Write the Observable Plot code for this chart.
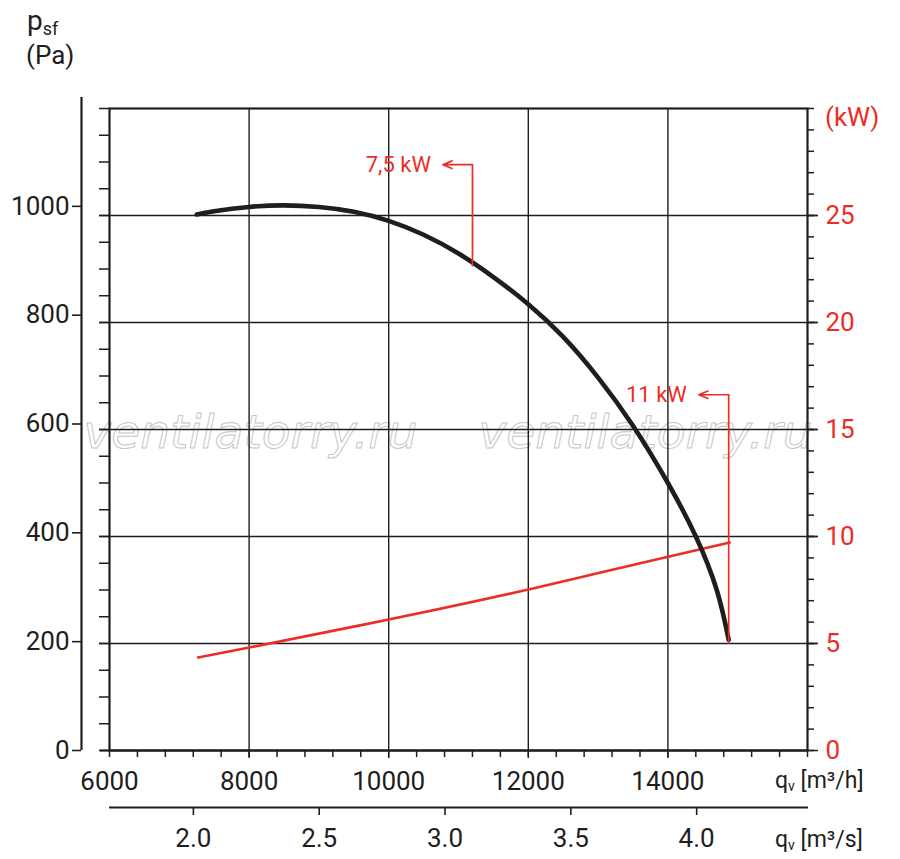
<!DOCTYPE html>
<html><head><meta charset="utf-8">
<script src="https://cdn.jsdelivr.net/npm/d3@7"></script>
<script src="https://cdn.jsdelivr.net/npm/@observablehq/plot@0.6"></script>
<style>
body{margin:0;background:#fff;}
#wrap{position:relative;width:900px;height:859px;font-family:Roboto, sans-serif;}
#wrap svg{position:absolute;left:0;top:0;overflow:visible}
</style></head><body>
<div id="wrap"></div>
<script>
// ---- data ----
const flowM3h    = [7250, 7500, 8000, 8500, 9000, 9500, 10000, 10500, 11000, 11500, 12000, 12500, 13000, 13500, 14000, 14400, 14700, 14871];
const pressurePa = [1002, 1008, 1016, 1019, 1016, 1007, 990, 964, 929, 885, 834, 773, 697, 607, 500, 400, 300, 207];
const powerFlowM3h = [7271, 8000, 10000, 12000, 13586, 14886];
const powerKW      = [4.35, 4.81, 6.12, 7.52, 8.74, 9.72];
const xTicksM3h = [6000, 8000, 10000, 12000, 14000];
const xTicksM3s = [2.0, 2.5, 3.0, 3.5, 4.0];
const yTicksPa  = [0, 200, 400, 600, 800, 1000];
const yTicksKW  = [0, 5, 10, 15, 20, 25];
const calloutLabels = ["7,5 kW", "11 kW"];
const calloutFlow   = [11200, 14871];
const calloutFrom   = [905, 200];
const calloutElbow  = [1095, 665];
const calloutTip    = [10777, 14443];
const watermark = "ventilatorry.ru";
const PA_PER_KW = 40; // 25 kW on the right axis = 1000 Pa on the left axis

// ---- styles ----
const RED = "#ec2d27", INK = "#1e1e1e";
const W = 900, H = 859;
const font = "Roboto, sans-serif";

const curve = flowM3h.map((q, i) => ({q, p: pressurePa[i]}));
const power = powerFlowM3h.map((q, i) => ({q, kw: powerKW[i]}));
const callouts = calloutLabels.map((label, i) => ({label, q: calloutFlow[i], p: calloutFrom[i], elbow: calloutElbow[i], tip: calloutTip[i]}));

const main = Plot.plot({
  width: W, height: H,
  marginLeft: 109, marginRight: 93, marginTop: 108, marginBottom: 109,
  x: {domain: [6000, 16000], axis: null},
  y: {domain: [0, 1200], axis: null},
  style: {fontFamily: font, background: "transparent", color: INK},
  marks: [
    Plot.text([watermark], {frameAnchor: "middle", dx: -208, dy: 3, fontSize: 47, fontStyle: "italic", fontFamily: "DejaVu Sans", fill: "none", stroke: "#c6c6c6", strokeWidth: 1}),
    Plot.text([watermark], {frameAnchor: "middle", dx: 187, dy: 3, fontSize: 47, fontStyle: "italic", fontFamily: "DejaVu Sans", fill: "none", stroke: "#c6c6c6", strokeWidth: 1}),
    Plot.gridY(yTicksPa.filter(v => v > 0), {stroke: INK, strokeOpacity: 1, strokeWidth: 1.4, insetLeft: -10, insetRight: -10}),
    Plot.gridX(xTicksM3h.filter(v => v > 6000), {stroke: INK, strokeOpacity: 1, strokeWidth: 1.4, insetBottom: -8}),
    Plot.axisY(d3.range(0, 1201, 50), {anchor: "left", tickSize: 10, tickFormat: () => "", stroke: INK, strokeWidth: 1.5}),
    Plot.axisY(d3.range(0, 1201, PA_PER_KW), {anchor: "right", tickSize: 6, tickFormat: () => "", stroke: INK, strokeWidth: 1.5}),
    Plot.axisY(yTicksKW.map(k => k * PA_PER_KW), {anchor: "right", tickSize: 10, tickPadding: 8, stroke: INK, strokeWidth: 1.5, fill: RED, fontSize: 26, tickFormat: v => String(v / PA_PER_KW)}),
    Plot.axisX(d3.range(6000, 16001, 400), {anchor: "bottom", tickSize: 7, tickFormat: () => "", stroke: INK, strokeWidth: 1.5}),
    Plot.axisX(xTicksM3h, {anchor: "bottom", tickSize: 0, tickPadding: 21, fontSize: 26, fill: INK, tickFormat: d3.format("d")}),
    Plot.frame({stroke: INK, strokeWidth: 2.2}),
    Plot.ruleY([0], {stroke: INK, strokeWidth: 1.8, insetLeft: -9, insetRight: -1}),
    Plot.line(power, {x: "q", y: d => d.kw * PA_PER_KW, stroke: RED, strokeWidth: 2.6, curve: "natural"}),
    Plot.line(curve, {x: "q", y: "p", stroke: INK, strokeWidth: 4.6, curve: "natural"}),
    Plot.link(callouts, {x1: "q", y1: "p", x2: "q", y2: "elbow", stroke: RED, strokeWidth: 1.7}),
    Plot.arrow(callouts, {x1: "q", y1: "elbow", x2: "tip", y2: "elbow", stroke: RED, strokeWidth: 1.7, headLength: 15, headAngle: 45}),
    Plot.text(callouts, {x: "tip", y: "elbow", text: "label", textAnchor: "end", dx: -12, fill: RED, fontSize: 22, fontFamily: font})
  ]
});

// outer left pressure axis (slightly different span than the grid)
const outerY = Plot.plot({
  width: W, height: H,
  marginLeft: 81, marginRight: W - 82, marginTop: 97, marginBottom: 109,
  x: {domain: [0, 1], axis: null},
  y: {domain: [0, 1200], axis: null},
  style: {fontFamily: font, background: "transparent", color: INK},
  marks: [
    Plot.ruleX([0], {stroke: INK, strokeWidth: 2.2}),
    Plot.axisY(yTicksPa, {anchor: "left", tickSize: 9, tickPadding: 3, fontSize: 26, fill: INK, stroke: INK, strokeWidth: 1.6, tickFormat: d3.format("d")})
  ]
});

// second flow axis in m³/s
const m3s = Plot.plot({
  width: W, height: H,
  marginLeft: 109, marginRight: 92, marginTop: 806, marginBottom: 52,
  x: {domain: [6000 / 3600, 16000 / 3600], axis: null},
  y: {domain: [0, 1], axis: null},
  style: {fontFamily: font, background: "transparent", color: INK},
  marks: [
    Plot.ruleY([0], {stroke: INK, strokeWidth: 1.8}),
    Plot.axisX(xTicksM3s, {anchor: "bottom", tickSize: 8, tickPadding: 13, fontSize: 26, fill: INK, stroke: INK, strokeWidth: 1.6, tickFormat: d3.format(".1f")})
  ]
});

const wrap = document.getElementById("wrap");
wrap.append(main, outerY, m3s);

// axis titles
const svg = d3.select(wrap).append("svg").attr("width", W).attr("height", H)
  .style("font-family", font).style("pointer-events", "none");
const t1 = svg.append("text").attr("x", 27).attr("y", 30).attr("fill", INK).attr("font-size", 28);
t1.append("tspan").text("p");
t1.append("tspan").attr("font-size", 18).attr("dy", 5).text("sf");
svg.append("text").attr("x", 26).attr("y", 64).attr("fill", INK).attr("font-size", 26).text("(Pa)");
svg.append("text").attr("x", 825).attr("y", 126).attr("fill", RED).attr("font-size", 26).text("(kW)");
function qLabel(y, unit) {
  const t = svg.append("text").attr("x", 775).attr("y", y).attr("fill", INK).attr("font-size", 23);
  t.append("tspan").text("q");
  t.append("tspan").attr("font-size", 14).attr("dy", 3).text("v");
  t.append("tspan").attr("dy", -3).text(" [" + unit + "]");
}
qLabel(788, "m³/h");
qLabel(847, "m³/s");
</script>
</body></html>
